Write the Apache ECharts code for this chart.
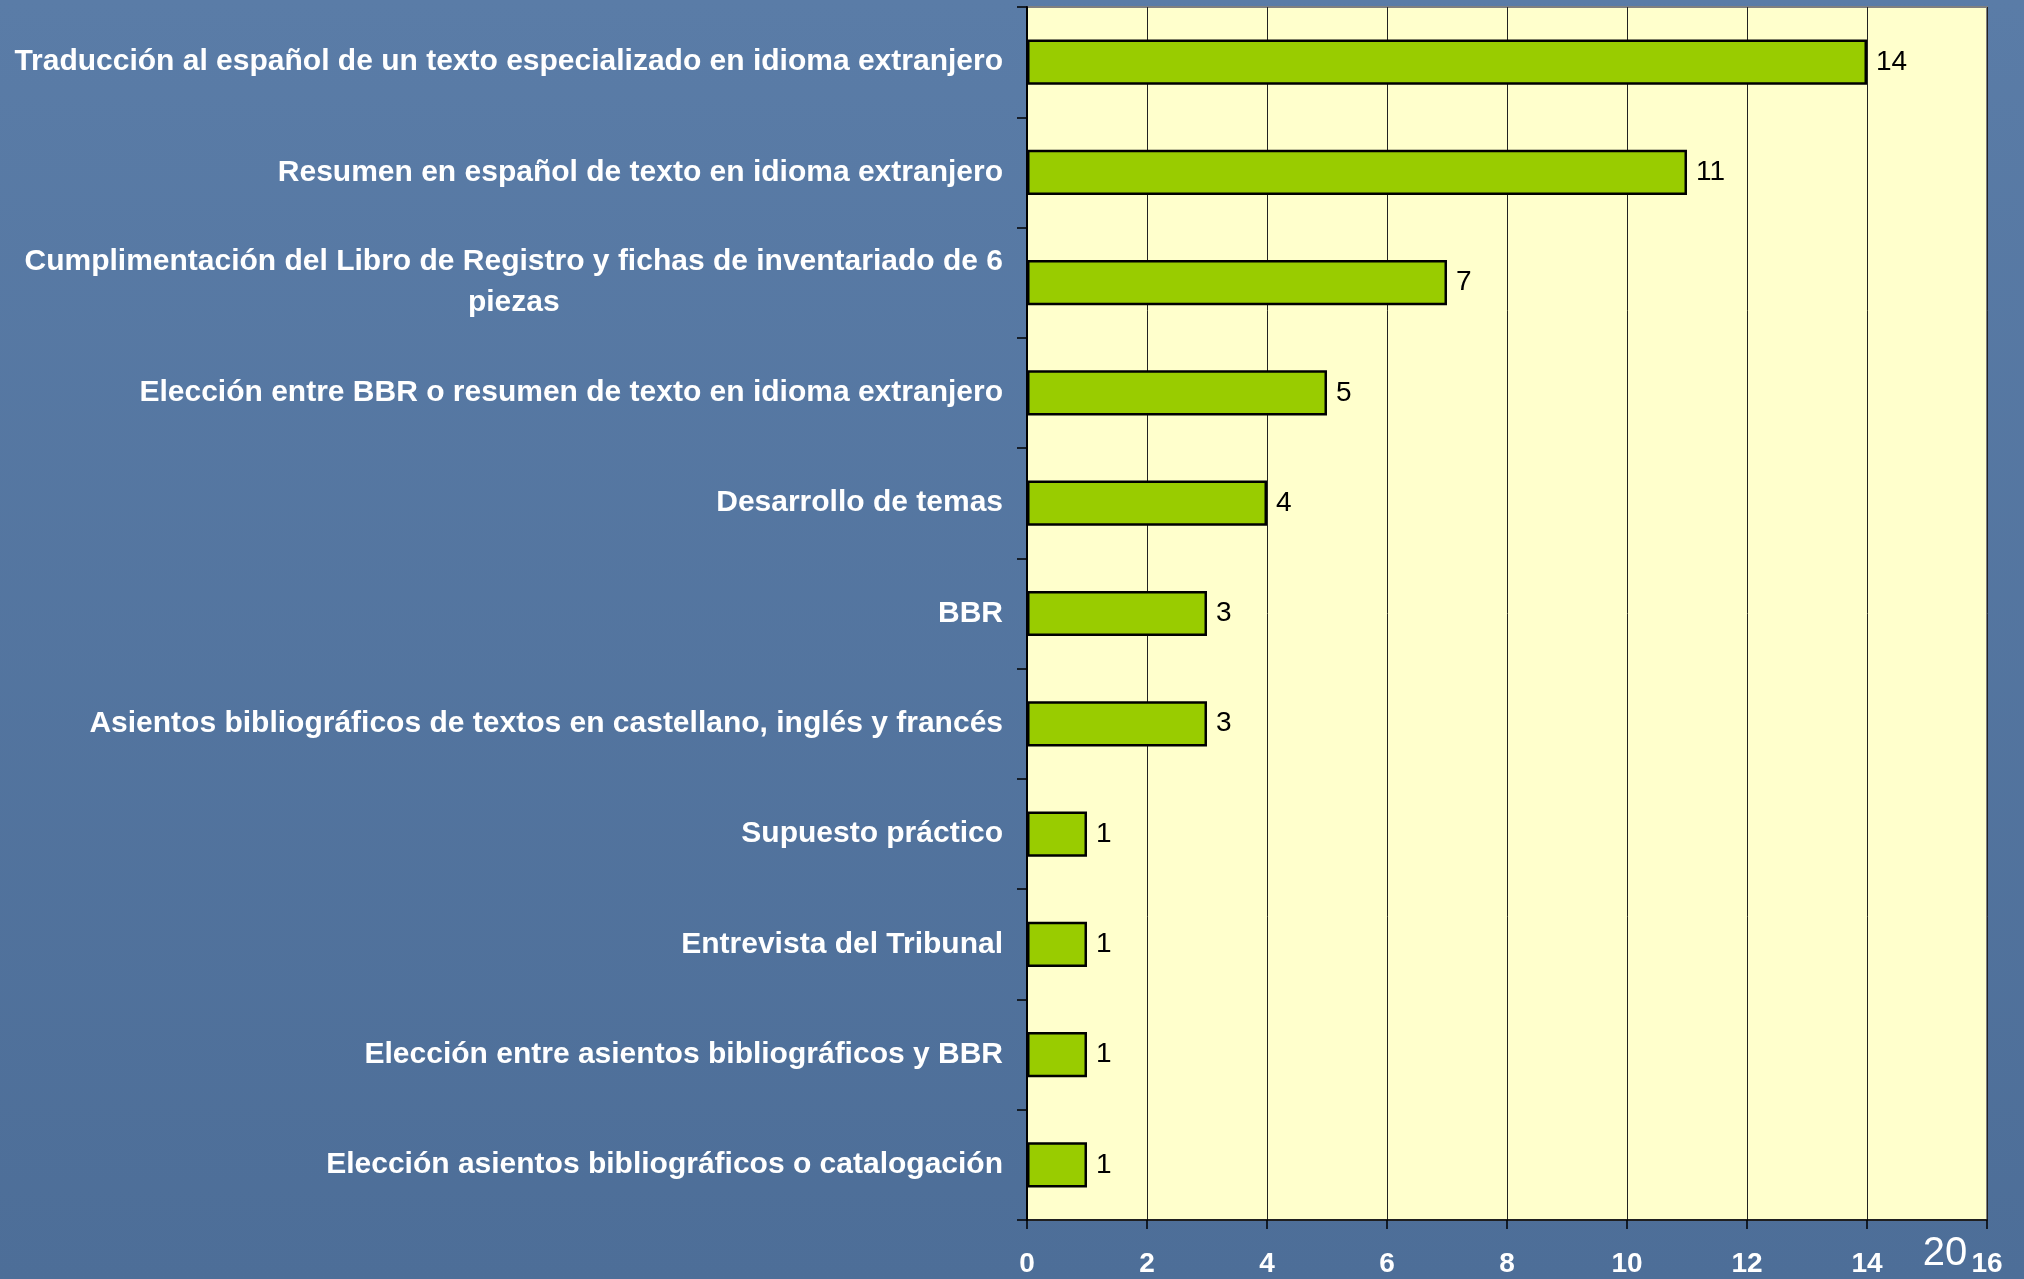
<!DOCTYPE html>
<html>
<head>
<meta charset="utf-8">
<script src="https://cdn.jsdelivr.net/npm/echarts@6/dist/echarts.min.js"></script>
<style>
html, body { margin: 0; padding: 0; }
#main { width: 2024px; height: 1279px; }
</style>
</head>
<body>
<div id="main"></div>
<script>
// datos
var categorias = [
    'Traducción al español de un texto especializado en idioma extranjero',
    'Resumen en español de texto en idioma extranjero',
    'Cumplimentación del Libro de Registro y fichas de inventariado de 6\npiezas',
    'Elección entre BBR o resumen de texto en idioma extranjero',
    'Desarrollo de temas',
    'BBR',
    'Asientos bibliográficos de textos en castellano, inglés y francés',
    'Supuesto práctico',
    'Entrevista del Tribunal',
    'Elección entre asientos bibliográficos y BBR',
    'Elección asientos bibliográficos o catalogación'
];
var valores = [14, 11, 7, 5, 4, 3, 3, 1, 1, 1, 1];
var pagina = '20';

var fuente = 'Liberation Sans, Arial, sans-serif';

var chartDom = document.getElementById('main');
var myChart = echarts.init(chartDom);
var option;

option = {
    backgroundColor: {
        type: 'linear', x: 0, y: 0, x2: 0, y2: 1,
        colorStops: [
            { offset: 0, color: '#5a7ca7' },
            { offset: 1, color: '#4d6e98' }
        ]
    },
    grid: {
        left: 1027,
        right: 37,
        top: 7,
        bottom: 59,
        show: true,
        backgroundColor: '#FFFFCC',
        borderColor: '#808080',
        borderWidth: 2
    },
    xAxis: {
        type: 'value',
        min: 0,
        max: 16,
        interval: 2,
        axisLine: { show: true, lineStyle: { color: '#000', width: 1.5 } },
        axisTick: { show: true, length: 9, lineStyle: { color: '#000', width: 1.5 } },
        splitLine: { show: true, lineStyle: { color: '#222', width: 1 } },
        axisLabel: {
            color: '#fff',
            fontWeight: 'bold',
            fontSize: 28,
            fontFamily: fuente,
            margin: 30
        }
    },
    yAxis: {
        type: 'category',
        inverse: true,
        data: categorias,
        axisLine: { show: true, lineStyle: { color: '#000', width: 2 } },
        axisTick: { show: true, length: 10, lineStyle: { color: '#000', width: 1.5 } },
        axisLabel: {
            color: '#fff',
            fontWeight: 'bold',
            fontSize: 30,
            fontFamily: fuente,
            margin: 24,
            lineHeight: 41,
            formatter: function (v) {
                if (v.indexOf('\n') < 0) return v;
                return v.split('\n').map(function (s) { return '{c|' + s + '}'; }).join('\n');
            },
            rich: {
                c: {
                    align: 'center',
                    color: '#fff',
                    fontWeight: 'bold',
                    fontSize: 30,
                    fontFamily: fuente,
                    lineHeight: 41
                }
            }
        }
    },
    series: [
        {
            type: 'bar',
            data: valores,
            barWidth: '41%',
            itemStyle: {
                color: '#99CC00',
                borderColor: '#000',
                borderWidth: 2.5
            },
            label: {
                show: true,
                position: 'right',
                distance: 9,
                color: '#000',
                fontSize: 28,
                fontFamily: fuente
            }
        }
    ],
    graphic: [
        {
            type: 'text',
            x: 1945,
            y: 1254,
            z: 100,
            style: {
                text: pagina,
                fill: '#fff',
                font: '40px ' + fuente,
                align: 'center',
                verticalAlign: 'middle',
                shadowColor: '#000',
                shadowOffsetX: 2,
                shadowOffsetY: 2
            }
        }
    ]
};

option && myChart.setOption(option);
</script>
</body>
</html>
